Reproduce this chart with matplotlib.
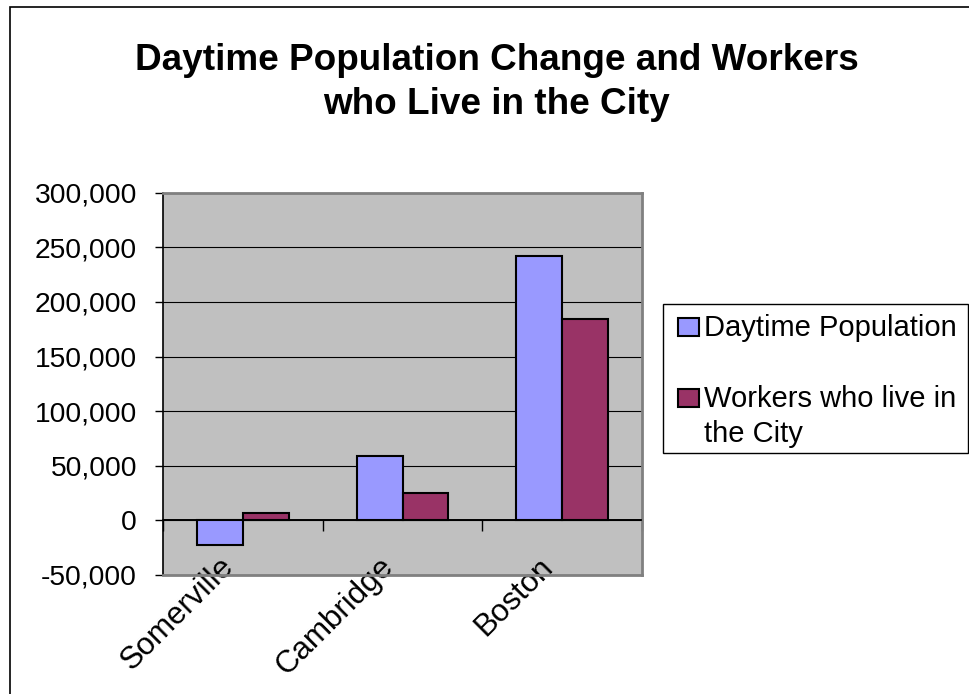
import matplotlib
matplotlib.use("Agg")
import matplotlib.pyplot as plt
import numpy as np
from matplotlib.patches import Rectangle
from matplotlib.transforms import ScaledTranslation

# ---- data ----
categories = ["Somerville", "Cambridge", "Boston"]
series_names = ["Daytime Population", "Workers who live in\nthe City"]
daytime_population = [-22300, 59000, 241600]
workers_in_city = [7000, 25200, 184600]
y_ticks = [-50000, 0, 50000, 100000, 150000, 200000, 250000, 300000]
title_lines = ["Daytime Population Change and Workers", "who Live in the City"]
colors = ["#9999FF", "#993366"]

W, H = 969, 694
plt.rcParams['font.family'] = ['Liberation Sans', 'DejaVu Sans']
fig = plt.figure(figsize=(W / 100, H / 100), dpi=100)

def fx(x):
    return x / W

def fy(y):
    return 1 - y / H

# outer frame (left/top visible)
fig.patches.append(Rectangle((fx(10), fy(720)), fx(1000) - fx(10), fy(7) - fy(720),
                             transform=fig.transFigure, fill=False, edgecolor="black",
                             linewidth=1.2, zorder=0))

# axes
left, right, top, bottom = 163.3, 641.7, 192.7, 575.0
ax = fig.add_axes([fx(left), fy(bottom), fx(right) - fx(left), fy(top) - fy(bottom)])
ax.set_facecolor("#C0C0C0")

x = np.arange(len(categories))
bw = 0.288
ax.bar(x - bw / 2, daytime_population, bw, color=colors[0], edgecolor="black", linewidth=1.5, zorder=3)
ax.bar(x + bw / 2, workers_in_city, bw, color=colors[1], edgecolor="black", linewidth=1.5, zorder=3)

ax.set_xlim(-0.5, len(categories) - 0.5)
ax.set_ylim(y_ticks[0], y_ticks[-1])
ax.set_yticks(y_ticks)
ax.set_yticklabels([f"{v:,}" for v in y_ticks], fontsize=20.3)
ax.yaxis.grid(True, color="black", linewidth=0.8, zorder=1)
ax.set_axisbelow(True)
ax.tick_params(axis="y", direction="out", length=6, width=1, color="black", pad=13)

for s in ["top", "right", "bottom"]:
    ax.spines[s].set_color("#808080")
    ax.spines[s].set_linewidth(2)
ax.spines["left"].set_color("black")
ax.spines["left"].set_linewidth(1.2)

# category labels at bottom
ax.set_xticks(x)
ax.set_xticklabels(categories, fontsize=22.5, rotation=45, ha="right", va="top",
                   rotation_mode="anchor")
ax.tick_params(axis="x", length=0, pad=-8)
for lab in ax.get_xticklabels():
    lab.set_transform(lab.get_transform() + ScaledTranslation(-0.24, 0.12, fig.dpi_scale_trans))

# category axis at y = 0 with boundary ticks
zero_pos = (0 - y_ticks[0]) / (y_ticks[-1] - y_ticks[0])
sec = ax.secondary_xaxis(zero_pos)
sec.set_xticks(np.arange(len(categories) + 1) - 0.5)
sec.set_xticklabels([])
sec.tick_params(direction="out", length=8, width=1, color="black")
sec.spines["bottom"].set_color("black")
sec.spines["bottom"].set_linewidth(1.2)
ax.axhline(0, color="black", linewidth=1.2, zorder=4)

# title
fig.text(fx(496.5), fy(70), title_lines[0], ha="center", va="baseline",
         fontsize=26.6, fontweight="bold")
fig.text(fx(496.5), fy(114), title_lines[1], ha="center", va="baseline",
         fontsize=26.6, fontweight="bold")

# legend box (manual)
lx0, ly0, lx1, ly1 = 663, 304, 968, 453
fig.patches.append(Rectangle((fx(lx0), fy(ly1)), fx(lx1) - fx(lx0), fy(ly0) - fy(ly1),
                             transform=fig.transFigure, fill=True, facecolor="white",
                             edgecolor="black", linewidth=1, zorder=5))
entry_y = [327, 398]
for name, col, ey in zip(series_names, colors, entry_y):
    fig.patches.append(Rectangle((fx(678), fy(ey + 9)), fx(699) - fx(678), fy(ey - 9) - fy(ey + 9),
                                 transform=fig.transFigure, facecolor=col, edgecolor="black",
                                 linewidth=1.5, zorder=6))
    fig.text(fx(704), fy(ey - 13), name, ha="left", va="top", fontsize=21,
             linespacing=1.3, zorder=6)

fig.savefig("out.png", dpi=100)
